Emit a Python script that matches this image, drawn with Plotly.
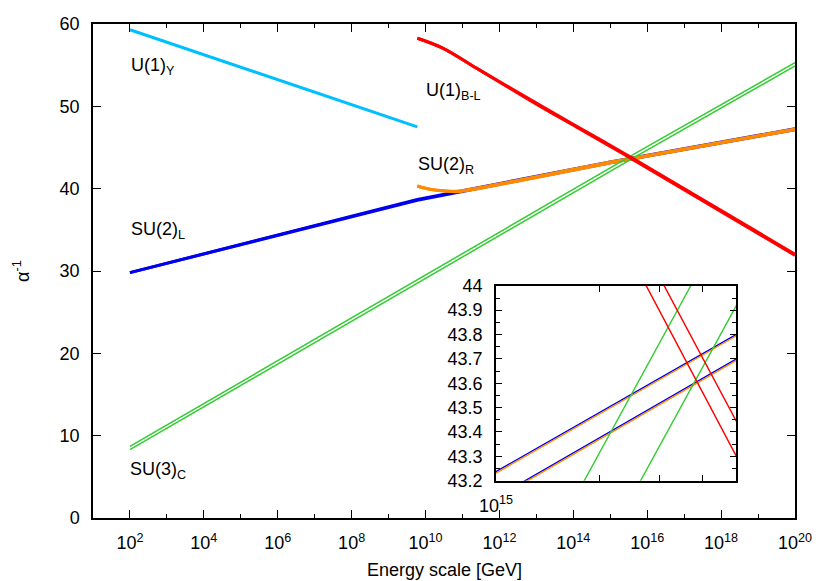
import plotly.graph_objects as go

# running inverse couplings vs energy scale (GeV)
E_u1y = [1e2, 6e9]
a_u1y = [59.3, 47.5]

E_su2l = [1e2, 6e9, 1e15, 5e15, 1e20]
a_su2l_1 = [29.8, 38.7, 43.237, 43.80, 47.27]
a_su2l_2 = [29.8, 38.6, 43.131, 43.699, 47.17]

E_su2r = [6e9, 1.0e10, 1.6e10, 3e10, 6.3e10, 1.26e11, 1e15, 5e15, 1e20]
a_su2r_1 = [40.33, 40.05, 39.86, 39.74, 39.68, 39.845, 43.231, 43.794, 47.264]
a_su2r_2 = [40.33, 40.05, 39.86, 39.74, 39.64, 39.76, 43.125, 43.693, 47.164]

E_su3 = [1e2, 1e15, 5e15, 1e20]
a_su3_1 = [8.7, 42.537, 44.34, 55.3]
a_su3_2 = [8.3, 42.114, 43.917, 54.9]

E_bl_1 = [6e9, 3e10, 2.4e11, 1.9e12, 1.5e13, 1.2e14, 2.74e15, 5e15, 1e20]
a_bl_1 = [58.27, 57.05, 54.62, 52.2, 49.8, 47.5, 44.0, 43.303, 31.9]
E_bl_2 = [6e9, 3e10, 2.4e11, 1.9e12, 1.5e13, 1.2e14, 3.09e15, 5e15, 1e20]
a_bl_2 = [58.27, 57.05, 54.64, 52.28, 49.93, 47.62, 44.0, 43.446, 32.05]

x_major = [10.0 ** k for k in range(2, 21, 2)]
x_major_text = ["10<sup>%d</sup>" % k for k in range(2, 21, 2)]
x_minor = [10.0 ** k for k in range(1, 21, 2)]
inset_x = [1e15, 2e15, 3e15, 4e15]
inset_x_text = ["10<sup>15</sup>", "", "", ""]
inset_y = [43.2, 43.3, 43.4, 43.5, 43.6, 43.7, 43.8, 43.9, 44.0]
inset_y_text = ["43.2", "43.3", "43.4", "43.5", "43.6", "43.7", "43.8", "43.9", "44"]

CYAN = "#00bfff"
BLUE = "#0000ee"
ORANGE = "#ff8a00"
GREEN = "#33cc33"
RED = "#ff0000"
FONT = "Liberation Sans, Arial, sans-serif"
FS = 18

# (x, y, colour, main width, main line shape)
series = [
    (E_u1y, a_u1y, CYAN, 3, "linear"),
    (E_su2l, a_su2l_2, BLUE, 3, "linear"),
    (E_su2l, a_su2l_1, BLUE, 3, "linear"),
    (E_su2r, a_su2r_2, ORANGE, 3, "spline"),
    (E_su2r, a_su2r_1, ORANGE, 3, "spline"),
    (E_su3, a_su3_1, GREEN, 1.5, "linear"),
    (E_su3, a_su3_2, GREEN, 1.5, "linear"),
    (E_bl_1, a_bl_1, RED, 3, "spline"),
    (E_bl_2, a_bl_2, RED, 3, "spline"),
]

fig = go.Figure()

for E, a, color, w, shape in series:
    fig.add_trace(go.Scatter(x=E, y=a, mode="lines",
                             line=dict(color=color, width=w, shape=shape),
                             xaxis="x", yaxis="y", hoverinfo="skip"))

# inset: zoom on the unification region
for E, a, color, w, shape in series:
    fig.add_trace(go.Scatter(x=E, y=a, mode="lines", line=dict(color=color, width=1.4),
                             xaxis="x2", yaxis="y2", hoverinfo="skip"))

axis_style = dict(showline=True, linecolor="black", linewidth=1.5, mirror="ticks",
                  ticks="inside", tickcolor="black", showgrid=False, zeroline=False,
                  automargin=False, ticklabelstandoff=8,
                  tickfont=dict(family=FONT, size=FS, color="black"))

labels = [
    (1.97, 54.78, "U(1)<sub>Y</sub>"),
    (9.96, 51.86, "U(1)<sub>B-L</sub>"),
    (9.73, 42.81, "SU(2)<sub>R</sub>"),
    (1.97, 34.92, "SU(2)<sub>L</sub>"),
    (1.96, 5.83, "SU(3)<sub>C</sub>"),
]
annotations = [
    dict(x=x, y=y, xref="x", yref="y", text=t, showarrow=False, xanchor="left",
         yanchor="middle", font=dict(family=FONT, size=FS, color="black"))
    for x, y, t in labels
]
annotations.append(dict(x=-0.1026, y=0.5, xref="paper", yref="paper", text="α<sup>-1</sup>",
                        textangle=-90, showarrow=False, xanchor="center", yanchor="middle",
                        font=dict(family=FONT, size=FS, color="black")))
annotations.append(dict(x=0.5, y=-0.105, xref="paper", yref="paper",
                        text="Energy scale [GeV]", showarrow=False, yanchor="middle",
                        font=dict(family=FONT, size=FS, color="black")))

# the page body adds an 8px offset, so margins are shifted to compensate
fig.update_layout(
    width=830, height=581,
    margin=dict(l=85, r=43, t=16, b=71),
    paper_bgcolor="white", plot_bgcolor="white",
    showlegend=False,
    font=dict(family=FONT, size=FS, color="black"),
    xaxis=dict(type="log", range=[1, 20], tickvals=x_major, ticktext=x_major_text,
               ticklen=8,
               minor=dict(tickvals=x_minor, ticklen=4, ticks="inside", tickcolor="black"),
               domain=[0, 1], **axis_style),
    yaxis=dict(range=[0, 60], dtick=10, ticklen=8, domain=[0, 1], **axis_style),
    xaxis2=dict(type="log", range=[15, 15.69897], anchor="y2",
                tickvals=inset_x, ticktext=inset_x_text,
                ticklen=6, domain=[0.574, 0.916], **axis_style),
    yaxis2=dict(range=[43.2, 44.0], anchor="x2", tickvals=inset_y, ticktext=inset_y_text,
                ticklen=6, minor=dict(dtick=0.05, ticklen=4, ticks="inside", tickcolor="black"),
                domain=[0.0755, 0.470], **axis_style),
    annotations=annotations,
)

fig.write_html("out.html")
